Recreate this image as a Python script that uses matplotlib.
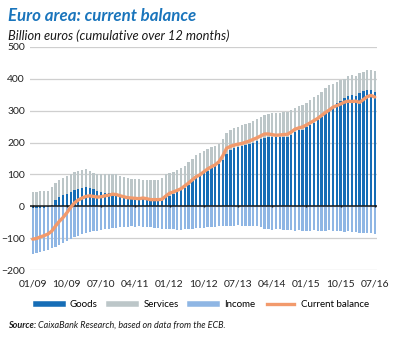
import numpy as np
import matplotlib
matplotlib.use("Agg")
import matplotlib.pyplot as plt

plt.rcParams['font.family'] = ['Lato', 'DejaVu Sans']

# monthly, 01/09 .. 07/16, billion euros (12-month cumulative)
tick_labels = ['01/09', '10/09', '07/10', '04/11', '01/12', '10/12',
               '07/13', '04/14', '01/15', '10/15', '07/16']

goods = [-5, -6, -5, -4, -3, 5, 20, 28, 35, 40, 45, 50, 55, 59, 60, 58, 53, 49, 45, 43,
         43, 43, 40, 35, 30, 27, 25, 24, 23, 23, 22, 21, 20, 20, 22, 28, 33, 40, 45, 50,
         56, 68, 80, 90, 97, 104, 112, 119, 126, 133, 145, 165, 177, 182, 185, 188, 191, 195, 200, 205,
         210, 215, 219, 218, 217, 217, 218, 219, 224, 234, 238, 240, 250, 255, 262, 271,
         281, 292, 302, 315, 325, 331, 339, 346, 349, 346, 356, 362, 365, 365, 359]

services = [45, 46, 47, 48, 49, 55, 53, 54, 53, 54, 57, 57, 56, 55, 56, 53, 53, 54, 55, 59,
            60, 59, 60, 61, 62, 62, 62, 61, 64, 61, 61, 63, 63, 64, 67, 72, 72, 69, 69, 70,
            72, 71, 70, 70, 71, 71, 68, 66, 64, 62, 66, 64, 62, 64, 65, 66, 66, 67, 68, 69,
            70, 72, 72, 74, 75, 77, 78, 78, 78, 76, 77, 78, 73, 78, 80, 78,
            78, 78, 78, 70, 66, 65, 62, 62, 62, 62, 61, 60, 62, 64, 66]

income = [-145, -142, -138, -136, -133, -132, -128, -122, -115, -108, -101, -96, -92, -88, -85, -81, -78, -76, -74, -72,
          -70, -68, -67, -66, -65, -64, -63, -64, -63, -64, -65, -66, -67, -68, -70, -71, -72, -72, -74, -73,
          -72, -71, -70, -69, -68, -67, -66, -65, -64, -63, -62, -61, -62, -61, -60, -61, -62, -61, -62, -63,
          -65, -70, -72, -73, -71, -72, -74, -73, -74, -76, -75, -76, -77, -76, -75, -76,
          -77, -76, -75, -76, -77, -78, -79, -78, -80, -82, -84, -85, -83, -84, -86]

current = [-103, -101, -96, -92, -87, -78, -62, -47, -35, -20, -3, 11, 20, 26, 31, 33, 31, 29, 30, 33,
           35, 38, 37, 33, 30, 27, 26, 25, 24, 26, 24, 21, 21, 21, 22, 32, 41, 45, 50, 55,
           64, 73, 83, 93, 99, 108, 117, 124, 130, 140, 158, 182, 188, 192, 195, 197, 201, 205, 210, 215,
           221, 227, 227, 225, 223, 224, 225, 226, 233, 242, 246, 249, 255, 262, 269, 276,
           285, 294, 302, 311, 316, 321, 327, 330, 329, 330, 326, 335, 344, 348, 343]

c_goods = '#166db6'
c_serv = '#bcc6c8'
c_inc = '#8fb6e4'
c_cur = '#f29a6c'

x = np.arange(len(goods))
g = np.array(goods)
s = np.array(services)
inc = np.array(income)
pos_g = np.maximum(g, 0)
neg_g = np.minimum(g, 0)

fig = plt.figure(figsize=(3.93, 3.38), dpi=100)
ax = fig.add_axes([0.0774, 0.201, 0.882, 0.660])

w = 0.62
ax.bar(x, g, w, color=c_goods, zorder=3)
ax.bar(x, s, w, bottom=pos_g, color=c_serv, zorder=3)
ax.bar(x, inc, w, bottom=neg_g, color=c_inc, zorder=3)
ax.plot(x, current, color=c_cur, lw=2.4, zorder=5, solid_capstyle='round')

ax.axhline(0, color='#1a1a1a', lw=1.1, zorder=4)
tick_idx = np.arange(0, len(goods), 9)
ax.vlines(tick_idx, -2, 5, color='#1a1a1a', lw=1.0, zorder=4)

ax.set_xlim(-0.6, len(goods) - 0.4)
ax.set_ylim(-200, 500)
ax.set_yticks(range(-200, 501, 100))
ax.set_xticks(tick_idx)
ax.set_xticklabels(tick_labels)
ax.grid(axis='y', color='#cfcfcf', lw=0.9, zorder=0)
ax.set_axisbelow(True)
for sp in ax.spines.values():
    sp.set_visible(False)
ax.tick_params(length=0, labelsize=7.5, colors='#222222')
ax.tick_params(axis='x', pad=7)
ax.tick_params(axis='y', pad=4)

fig.text(0.02, 0.975, 'Euro area: current balance', color='#1a75bc',
         fontsize=12.2, fontweight='bold', fontstyle='italic', va='top')
fig.text(0.02, 0.912, 'Billion euros (cumulative over 12 months)', color='#1a1a1a',
         fontsize=9.3, fontstyle='italic', va='top')

handles = [plt.Line2D([], [], color=c, lw=4) for c in (c_goods, c_serv, c_inc, c_cur)]
handles[3].set_linewidth(2.4)
fig.legend(handles, ['Goods', 'Services', 'Income', 'Current balance'],
           loc='center', bbox_to_anchor=(0.515, 0.098), ncol=4, frameon=False,
           fontsize=7, handlelength=2.8, columnspacing=1.2, handletextpad=0.7)

src = fig.text(0.02, 0.038, 'Source:', fontsize=6.5, fontweight='bold',
               fontstyle='italic', va='center', color='#1a1a1a')
fig.canvas.draw()
bb = src.get_window_extent(fig.canvas.get_renderer())
fig.text(bb.x1 / fig.bbox.width + 0.004, 0.038,
         'CaixaBank Research, based on data from the ECB.', fontsize=6.5,
         fontstyle='italic', va='center', color='#1a1a1a')

fig.savefig('out.png', dpi=100)
